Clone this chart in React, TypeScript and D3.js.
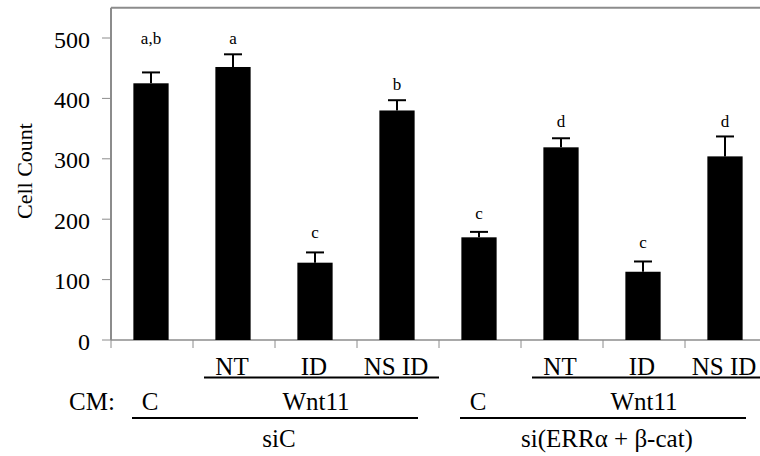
import React from "react";
import * as d3 from "d3";

const categories = ["siC-C", "siC-NT", "siC-ID", "siC-NSID", "si2-C", "si2-NT", "si2-ID", "si2-NSID"];
const values = [425, 452, 128, 380, 170, 319, 113, 304];
const errors = [18, 21, 17, 17, 9, 15, 17, 33];
const letters = ["a,b", "a", "c", "b", "c", "d", "c", "d"];
const letterLevels = [490, 490, 169, 414, 200, 353, 152, 353];
const subLabels = ["", "NT", "ID", "NS ID", "", "NT", "ID", "NS ID"];
const cmGroups = [
  { label: "C", from: 0, to: 0 },
  { label: "Wnt11", from: 1, to: 3 },
  { label: "C", from: 4, to: 4 },
  { label: "Wnt11", from: 5, to: 7 },
];
const wntSpans = [
  { from: 1, to: 3 },
  { from: 5, to: 7 },
];
const siGroups = [
  { label: "siC", from: 0, to: 3 },
  { label: "si(ERRα + β-cat)", from: 4, to: 7 },
];
const yTicks = [0, 100, 200, 300, 400, 500];

const W = 760;
const H = 456;
const left = 111;
const right = 767;
const bottom = 340;
const top = 7.8;
const gray = "#8c8c8c";
const font = "Liberation Serif, Tinos, Times New Roman, Times, DejaVu Serif, serif";

export default function App() {
  const y = d3.scaleLinear().domain([0, 550]).range([bottom, top]);
  const x = d3
    .scaleBand<string>()
    .domain(categories)
    .range([left, right])
    .paddingInner(0.57)
    .paddingOuter(0.285);
  const step = x.step();
  const bw = x.bandwidth();
  const bandStart = (i: number) => left + i * step;
  const bandCenter = (i: number) => bandStart(i) + step / 2;
  const capW = 18;
  const ts = { fontFamily: font } as React.CSSProperties;

  return (
    <svg
      width={W}
      height={H}
      style={{ position: "fixed", left: 0, top: 0, background: "#fff", display: "block", fontFamily: font }}
    >
      <rect x={0} y={0} width={W} height={H} fill="#fff" />
      <line x1={left} x2={right} y1={y(550)} y2={y(550)} stroke={gray} strokeWidth={2} />
      <line x1={left} x2={left} y1={y(550)} y2={bottom} stroke={gray} strokeWidth={2} />
      <line x1={left} x2={right} y1={bottom} y2={bottom} stroke={gray} strokeWidth={1.5} />
      {yTicks.map((t) => (
        <g key={t}>
          <line x1={left - 9} x2={left} y1={y(t)} y2={y(t)} stroke={gray} strokeWidth={1} />
          <text x={90} y={y(t) + 9.5} textAnchor="end" fontSize={24} fill="#000" style={ts}>
            {t}
          </text>
        </g>
      ))}
      {categories.map((c, i) => (
        <line key={c} x1={bandStart(i)} x2={bandStart(i)} y1={bottom} y2={bottom + 8} stroke={gray} strokeWidth={1} />
      ))}
      <text transform={`translate(32,171) rotate(-90)`} textAnchor="middle" fontSize={22} fill="#000" style={ts}>
        Cell Count
      </text>
      {categories.map((c, i) => {
        const bx = x(c)! - 1;
        const cx = bx + bw / 2;
        return (
          <g key={c}>
            <rect x={bx} y={y(values[i])} width={bw} height={bottom - y(values[i])} fill="#000" />
            <line x1={cx} x2={cx} y1={y(values[i])} y2={y(values[i] + errors[i])} stroke="#000" strokeWidth={2} />
            <line
              x1={cx - capW / 2}
              x2={cx + capW / 2}
              y1={y(values[i] + errors[i])}
              y2={y(values[i] + errors[i])}
              stroke="#000"
              strokeWidth={2}
            />
            <text x={cx} y={y(letterLevels[i])} textAnchor="middle" fontSize={17} fill="#000" style={ts}>
              {letters[i]}
            </text>
          </g>
        );
      })}
      {subLabels.map((s, i) =>
        s ? (
          <text key={i} x={bandCenter(i) - 2} y={375} textAnchor="middle" fontSize={25} fill="#000" style={ts}>
            {s}
          </text>
        ) : null
      )}
      {wntSpans.map((g, i) => (
        <line
          key={i}
          x1={bandStart(g.from) + 11}
          x2={bandStart(g.to) + step}
          y1={377.5}
          y2={377.5}
          stroke="#000"
          strokeWidth={2}
        />
      ))}
      <text x={92} y={410} textAnchor="middle" fontSize={25} fill="#000" style={ts}>
        CM:
      </text>
      {cmGroups.map((g, i) => (
        <text
          key={i}
          x={(bandStart(g.from) + bandStart(g.to) + step) / 2 - (g.from === g.to ? 2 : 0)}
          y={410}
          textAnchor="middle"
          fontSize={25}
          fill="#000"
          style={ts}
        >
          {g.label}
        </text>
      ))}
      {siGroups.map((g, i) => {
        const x1 = bandStart(g.from) + 21;
        const x2 = bandStart(g.to) + step - 21;
        return (
          <g key={i}>
            <line x1={x1} x2={x2} y1={418} y2={418} stroke="#000" strokeWidth={2} />
            <text x={(x1 + x2) / 2 + 4} y={447} textAnchor="middle" fontSize={25} fill="#000" style={ts}>
              {g.label}
            </text>
          </g>
        );
      })}
    </svg>
  );
}
